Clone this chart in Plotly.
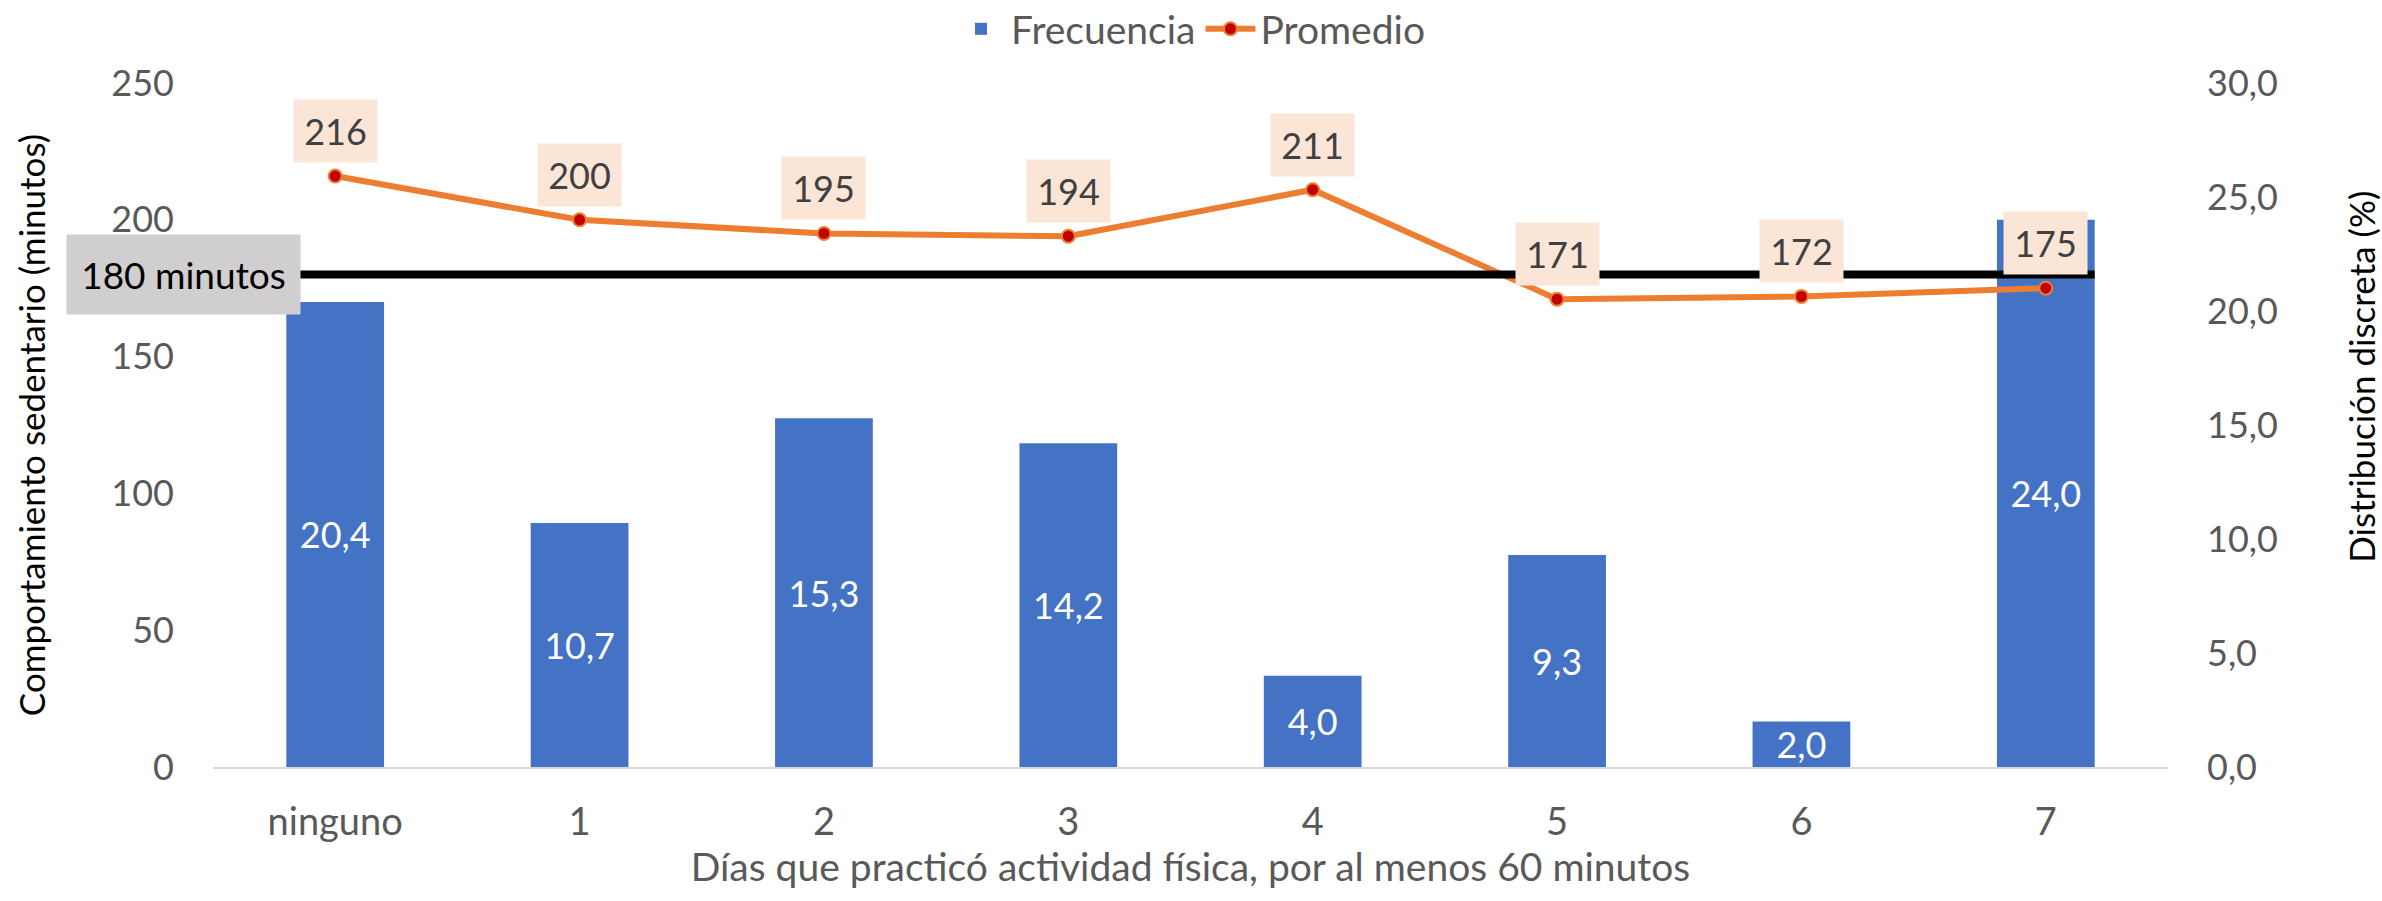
import plotly.graph_objects as go

# Data
categorias = ["ninguno", "1", "2", "3", "4", "5", "6", "7"]
frecuencia = [20.4, 10.7, 15.3, 14.2, 4.0, 9.3, 2.0, 24.0]   # % (right axis)
promedio = [216, 200, 195, 194, 211, 171, 172, 175]           # minutos (left axis)
umbral_minutos = 180
izq_ticks = [0, 50, 100, 150, 200, 250]
der_ticks = [0, 5, 10, 15, 20, 25, 30]

FONT = "Lato"
GRIS = "#595959"
AZUL = "#4472C4"
NARANJA = "#ED7D31"

fmt = lambda v: f"{v:.1f}".replace(".", ",")

fig = go.Figure()

fig.add_trace(go.Bar(
    x=categorias, y=frecuencia, name="Frecuencia",
    marker=dict(color=AZUL, line=dict(width=0)),
    text=[fmt(v) for v in frecuencia],
    textposition="inside", insidetextanchor="middle",
    constraintext="none",
    textfont=dict(family=FONT, size=36, color="white"),
    yaxis="y",
))

fig.add_trace(go.Scatter(
    x=categorias, y=promedio, name="Promedio",
    mode="lines+markers",
    line=dict(color=NARANJA, width=6),
    marker=dict(color="#C00000", size=13, line=dict(color=NARANJA, width=2)),
    yaxis="y2",
))

# value boxes above the average line
for c, v in zip(categorias, promedio):
    fig.add_annotation(
        x=c, y=v, xref="x", yref="y2", text=str(v),
        showarrow=False, yshift=45, width=81, height=60,
        bgcolor="#FBE5D6", font=dict(family=FONT, size=36, color="#404040"),
    )

# 180-minute reference line
fig.add_shape(
    type="line", xref="x", yref="y2",
    x0=-0.2, x1=len(categorias) - 1 + 0.2,
    y0=umbral_minutos, y1=umbral_minutos,
    line=dict(color="black", width=8), layer="above",
)
fig.add_annotation(
    x=-0.0153, y=umbral_minutos, xref="paper", yref="y2",
    xanchor="center", yanchor="middle",
    text=f"{umbral_minutos} minutos", showarrow=False,
    width=231, height=77, bgcolor="#D0CECE",
    font=dict(family=FONT, size=37, color="black"),
)

# right-hand axis title
fig.add_annotation(
    x=1.099, y=0.57, xref="paper", yref="paper",
    xanchor="center", yanchor="middle", textangle=-90,
    text="Distribución discreta (%)", showarrow=False,
    font=dict(family=FONT, size=35, color="black"),
)

fig.update_layout(
    width=2382, height=901,
    margin=dict(l=213, r=214, t=83, b=134, autoexpand=False),
    paper_bgcolor="white", plot_bgcolor="white",
    separators=",.",
    bargap=0.6,
    font=dict(family=FONT, size=36, color=GRIS),
    showlegend=True,
    legend=dict(
        orientation="h", x=0.5, xanchor="center", y=1.079, yanchor="middle",
        font=dict(family=FONT, size=39, color=GRIS),
        bgcolor="rgba(0,0,0,0)", itemwidth=50,
    ),
    xaxis=dict(
        showgrid=False, zeroline=False, ticks="",
        showline=True, linecolor="#D9D9D9", linewidth=2,
        tickfont=dict(family=FONT, size=38, color=GRIS),
        ticklabelstandoff=20,
        title=dict(text="Días que practicó actividad física, por al menos 60 minutos",
                   font=dict(family=FONT, size=39, color=GRIS), standoff=12),
    ),
    yaxis=dict(
        side="right", range=[0, 30], tickvals=der_ticks, tickformat=".1f",
        showgrid=False, zeroline=False, ticks="", showline=False,
        tickfont=dict(family=FONT, size=36, color=GRIS),
        ticklabelstandoff=38,
    ),
    yaxis2=dict(
        side="left", overlaying="y", range=[0, 250], tickvals=izq_ticks,
        showgrid=False, zeroline=False, ticks="", showline=False,
        tickfont=dict(family=FONT, size=36, color=GRIS),
        ticklabelstandoff=38,
        title=dict(text="Comportamiento sedentario (minutos)",
                   font=dict(family=FONT, size=35, color="black"), standoff=55),
    ),
)

fig.write_html("out.html")
